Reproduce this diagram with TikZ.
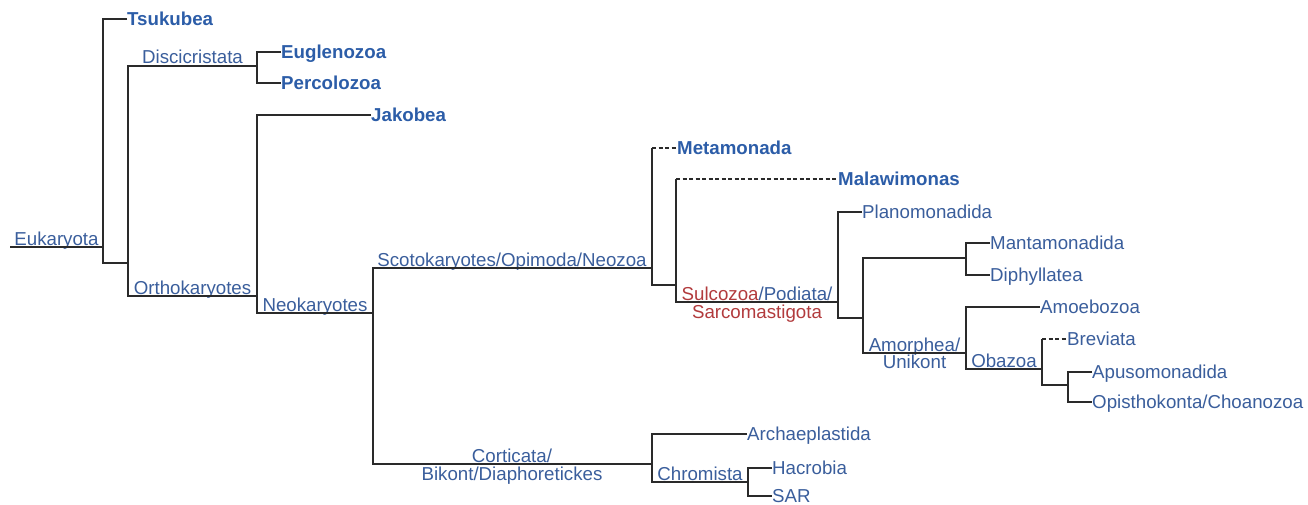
\documentclass[tikz,border=0pt]{standalone}
\usepackage{fontspec}
\setmainfont{Liberation Sans}
\definecolor{leafblue}{HTML}{2C5DA8}
\definecolor{labblue}{HTML}{3A5E9C}
\definecolor{labred}{HTML}{B23B3D}
\definecolor{branch}{HTML}{2A2A2A}
\tikzset{
  tip/.style={anchor=west, inner sep=0pt, text=labblue, text height=13.4pt, text depth=0pt,
    font=\fontsize{18.7}{18.7}\selectfont},
  boldtip/.style={tip, text=leafblue, font=\fontsize{18.7}{18.7}\selectfont\bfseries},
  clade/.style={anchor=base, inner sep=0pt, text=labblue, font=\fontsize{18.7}{18.7}\selectfont},
  edge/.style={draw=branch, line width=1.2pt},
  uncertain/.style={edge, dash pattern=on 4pt off 2.5pt}
}
\begin{document}
\begin{tikzpicture}[x=1pt, y=-1pt]
\useasboundingbox[fill=white] (0,0) rectangle (1308,505);

% ---- junction points of the tree ----
\coordinate (eukL) at (10,247);
\coordinate (eukR) at (103,247);
\coordinate (orthJ) at (128,263);
\coordinate (disL) at (128,66);
\coordinate (disR) at (257,66);
\coordinate (orthL) at (128,296);
\coordinate (orthR) at (257,296);
\coordinate (neoR) at (373,313);
\coordinate (scoR) at (652,268);
\coordinate (cortR) at (652,464);
\coordinate (metaJ) at (652,148);
\coordinate (sulcJ) at (676,285);
\coordinate (malJ) at (676,179);
\coordinate (sulcL) at (676,302);
\coordinate (sulcR) at (838,302);
\coordinate (amJ) at (863,318);
\coordinate (mantJ) at (966,258);
\coordinate (amR) at (966,353);
\coordinate (obR) at (1042,369);
\coordinate (brevJ) at (1042,339);
\coordinate (opJ) at (1068,385);
\coordinate (chrR) at (748,482);

% ---- terminal taxa ----
\node[boldtip] (tsuk) at (127,19) {Tsukubea};
\node[boldtip] (eug)  at (281,52) {Euglenozoa};
\node[boldtip] (perc) at (281,83) {Percolozoa};
\node[boldtip] (jak)  at (371,115) {Jakobea};
\node[boldtip] (meta) at (677,148) {Metamonada};
\node[boldtip] (mal)  at (838,179) {Malawimonas};
\node[tip] (plan) at (862,212) {Planomonadida};
\node[tip] (mant) at (990,243) {Mantamonadida};
\node[tip] (diph) at (990,275) {Diphyllatea};
\node[tip] (amoe) at (1040,307) {Amoebozoa};
\node[tip] (brev) at (1067,339) {Breviata};
\node[tip] (apus) at (1092,372) {Apusomonadida};
\node[tip] (opis) at (1092,402) {Opisthokonta/Choanozoa};
\node[tip] (arch) at (747,434) {Archaeplastida};
\node[tip] (hacr) at (772,468) {Hacrobia};
\node[tip] (sar)  at (772,496) {SAR};

% ---- clade names on the branches ----
\node[clade] (euk)  at (56.5,245) {Eukaryota};
\node[clade] (disc) at (192.5,64) {Discicristata};
\node[clade] (orth) at (192.5,294) {Orthokaryotes};
\node[clade] (neo)  at (315,311) {Neokaryotes};
\node[clade] (sco)  at (512,266) {Scotokaryotes/Opimoda/Neozoa};
\node[clade] (sulcA) at (757,300) {\textcolor{labred}{Sulcozoa}/Podiata/};
\node[clade, text=labred] (sulcB) at (757,318) {Sarcomastigota};
\node[clade] (amA)  at (914.5,351) {Amorphea/};
\node[clade] (amB)  at (914.5,368) {Unikont};
\node[clade] (oba)  at (1004,367) {Obazoa};
\node[clade] (cortA) at (512,462) {Corticata/};
\node[clade] (cortB) at (512,480) {Bikont/Diaphoretickes};
\node[clade] (chro) at (700,480) {Chromista};

% ---- branches ----
\draw[edge] (eukL) -- (eukR);
\draw[edge] (tsuk.west) -| (eukR) |- (orthJ);
\draw[edge] (disR) -- (disL) -- (orthL) -- (orthR);
\draw[edge] (eug.west) -| (disR) |- (perc.west);
\draw[edge] (jak.west) -| (orthR) |- (neoR);
\draw[edge] (scoR) -| (neoR) |- (cortR);
\draw[uncertain] (metaJ) -- (meta.west);
\draw[edge] (metaJ) -- (scoR) |- (sulcJ);
\draw[uncertain] (malJ) -- (mal.west);
\draw[edge] (malJ) -- (sulcL) -- (sulcR);
\draw[edge] (plan.west) -| (sulcR) |- (amJ);
\draw[edge] (mantJ) -| (amJ) |- (amR);
\draw[edge] (mant.west) -| (mantJ) |- (diph.west);
\draw[edge] (amoe.west) -| (amR) |- (obR);
\draw[uncertain] (brevJ) -- (brev.west);
\draw[edge] (brevJ) -- (obR) |- (opJ);
\draw[edge] (apus.west) -| (opJ) |- (opis.west);
\draw[edge] (arch.west) -| (cortR) |- (chrR);
\draw[edge] (hacr.west) -| (chrR) |- (sar.west);
\end{tikzpicture}
\end{document}
